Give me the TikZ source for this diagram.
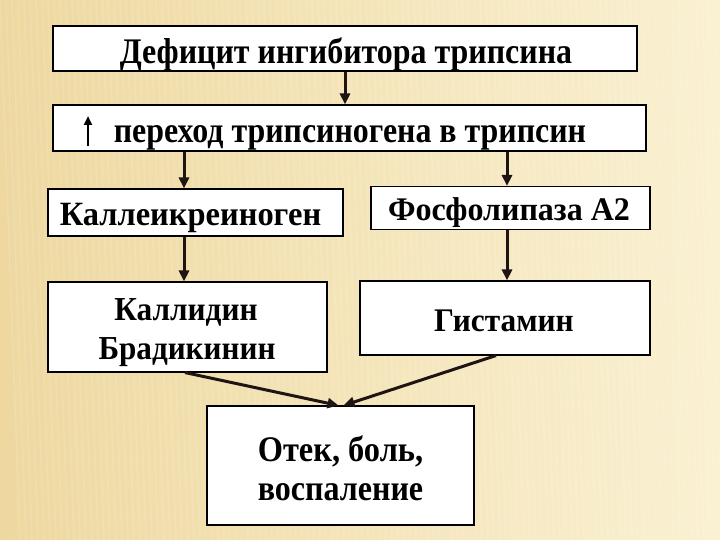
\documentclass[tikz,border=0pt]{standalone}
\usepackage{fontspec}
\usepackage{graphicx}
\setmainfont{Liberation Serif}
\usetikzlibrary{arrows.meta}
\definecolor{bgA}{RGB}{238,216,160}
\definecolor{bgB}{RGB}{250,241,210}
\definecolor{arr}{RGB}{30,20,20}
\newcommand\stretchtxt[3]{\fontsize{#1}{#1}\selectfont\scalebox{#2}[1]{#3}}
\tikzset{
  box/.style={draw=black, line width=1.1pt, fill=white, inner sep=0pt},
  txt/.style={anchor=base, inner sep=0pt, font=\bfseries},
  conn/.style={draw=arr, line width=3pt, -{Triangle[length=11pt,width=10pt]}}
}
\begin{document}
\begin{tikzpicture}[x=1pt,y=-1pt]
\shade[left color=bgA, right color=bgB] (0,0) rectangle (720,540);
\useasboundingbox (0,0) rectangle (720,540);
\foreach \i in {0,6,...,720} {\draw[white, opacity=0.12, line width=1.5pt] (\i,0) -- (\i+20,540);}
% boxes
\node[box, minimum width=584pt, minimum height=45pt] (b1) at (345,48.5) {};
\node[box, minimum width=593pt, minimum height=46pt] (b2) at (349.5,128) {};
\node[box, minimum width=295pt, minimum height=47pt] (b3) at (195.5,212.5) {};
\node[box, minimum width=279pt, minimum height=43pt] (b4) at (510.5,208) {};
\node[box, minimum width=279pt, minimum height=90pt] (b5) at (187.5,327) {};
\node[box, minimum width=290pt, minimum height=74pt] (b6) at (505,318) {};
\node[box, minimum width=267pt, minimum height=119pt] (b7) at (340.5,465.5) {};
% texts
\node[txt] (t1) at (346,63.5) {\stretchtxt{36}{0.887}{Дефицит ингибитора трипсина}};
\node[txt] (t2) at (350,142.5) {\stretchtxt{36}{0.886}{переход трипсиногена в трипсин}};
\node[txt] (t3) at (190.5,225.5) {\stretchtxt{34}{0.955}{Каллеикреиноген}};
\node[txt] (t4) at (509,221) {\stretchtxt{33}{0.97}{Фосфолипаза А2}};
\node[txt] (t5a) at (186,320) {\stretchtxt{33.5}{0.935}{Каллидин}};
\node[txt] (t5b) at (187,359) {\stretchtxt{33.5}{0.93}{Брадикинин}};
\node[txt] (t6) at (504,331) {\stretchtxt{33}{0.95}{Гистамин}};
\node[txt] (t7a) at (340.5,461) {\stretchtxt{36}{0.9}{Отек, боль,}};
\node[txt] (t7b) at (340.5,500) {\stretchtxt{36}{0.89}{воспаление}};
% up arrow glyph
\coordinate (ua) at (88,146);
\coordinate (ub) at (88,116);
\draw[draw=black, line width=2.7pt, -{Triangle[length=9pt,width=8pt]}] (ua) -- (ub);
% connectors
\draw[conn] (b1.south -| 345,0) -- (b2.north -| 345,0);
\draw[conn] (b2.south -| 184,0) -- (b3.north -| 184,0);
\draw[conn] (b2.south -| 507,0) -- (b4.north -| 507,0);
\draw[conn] (b3.south -| 184,0) -- (b5.north -| 184,0);
\draw[conn] (b4.south -| 507,0) -- (b6.north -| 507,0);
\draw[conn] (b5.south -| 185,0) -- ([xshift=-2pt]b7.north);
\draw[conn] (b6.south -| 496,0) -- ([xshift=3pt]b7.north);
\end{tikzpicture}
\end{document}
